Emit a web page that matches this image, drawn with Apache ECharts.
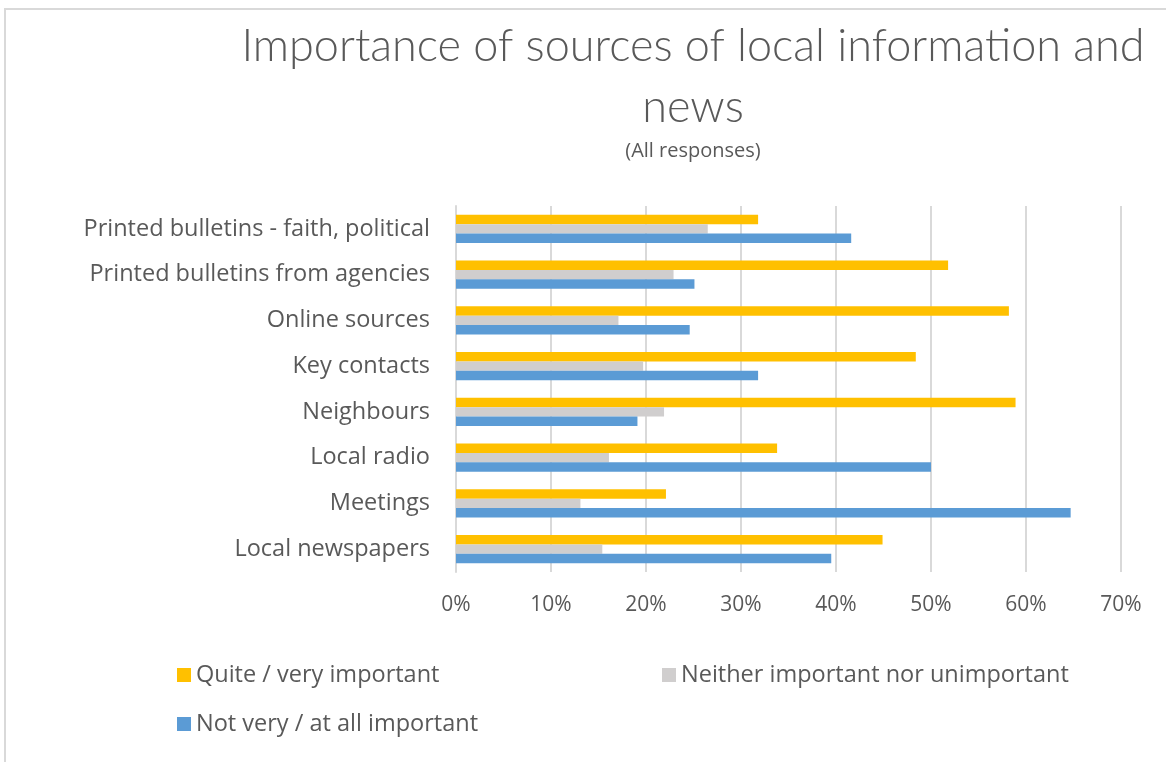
<!DOCTYPE html>
<html>
<head>
<meta charset="utf-8">
<script src="https://cdn.jsdelivr.net/npm/echarts@6/dist/echarts.min.js"></script>
<style>
  html, body { margin: 0; padding: 0; background: #ffffff; }
  #chart { width: 1166px; height: 762px; }
</style>
</head>
<body>
<div id="chart"></div>
<script>
// Sources, listed bottom to top as they appear on the category axis
const categories = [
  'Local newspapers',
  'Meetings',
  'Local radio',
  'Neighbours',
  'Key contacts',
  'Online sources',
  'Printed bulletins from agencies',
  'Printed bulletins - faith, political'
];

// Share of responses (%) per source
const quiteVeryImportant = [44.9, 22.1, 33.8, 58.9, 48.4, 58.2, 51.8, 31.8];
const neitherImportant   = [15.4, 13.1, 16.1, 21.9, 19.7, 17.1, 22.9, 26.5];
const notVeryImportant   = [39.5, 64.7, 50.0, 19.1, 31.8, 24.6, 25.1, 41.6];

const seriesNames = [
  'Quite / very important',
  'Neither important nor unimportant',
  'Not very / at all important'
];

const xTicks = [0, 10, 20, 30, 40, 50, 60, 70];

const textColor = '#595959';
const gridColor = '#d9d9d9';
const labelFont = '"Open Sans", "Noto Sans", sans-serif';
const titleFont = 'Lato, "Open Sans", sans-serif';

const chart = echarts.init(document.getElementById('chart'), null, { renderer: 'canvas' });

const legendCommon = {
  icon: 'rect',
  itemWidth: 14,
  itemHeight: 14,
  itemGap: 4,
  textStyle: { color: textColor, fontSize: 23.5, fontFamily: labelFont },
  selectedMode: false
};

chart.setOption({
  animation: false,
  backgroundColor: '#ffffff',
  title: [
    {
      text: 'Importance of sources of local information and\nnews',
      left: 688,
      top: 11,
      textAlign: 'center',
      textStyle: {
        color: textColor,
        fontSize: 45,
        fontWeight: 300,
        fontFamily: titleFont,
        lineHeight: 61
      }
    },
    {
      text: '(All responses)',
      left: 688,
      top: 136,
      textAlign: 'center',
      textStyle: {
        color: textColor,
        fontSize: 20,
        fontWeight: 'normal',
        fontFamily: labelFont
      }
    }
  ],
  legend: [
    Object.assign({ data: [seriesNames[0]], left: 172, top: 658 }, legendCommon),
    Object.assign({ data: [seriesNames[1]], left: 657, top: 658 }, legendCommon),
    Object.assign({ data: [seriesNames[2]], left: 172, top: 707 }, legendCommon)
  ],
  grid: {
    left: 456,
    right: 45,
    top: 206,
    bottom: 190,
    containLabel: false
  },
  xAxis: {
    type: 'value',
    min: xTicks[0],
    max: xTicks[xTicks.length - 1],
    interval: 10,
    axisLine: { show: false },
    axisTick: { show: false },
    splitLine: { show: true, lineStyle: { color: gridColor, width: 2 } },
    axisLabel: {
      color: textColor,
      fontSize: 21,
      fontFamily: labelFont,
      margin: 23,
      formatter: v => v + '%'
    }
  },
  yAxis: {
    type: 'category',
    data: categories,
    axisLine: { show: true, lineStyle: { color: gridColor, width: 2 } },
    axisTick: { show: false },
    axisLabel: {
      color: textColor,
      fontSize: 23.5,
      fontFamily: labelFont,
      margin: 26
    }
  },
  // Series order puts "Quite / very important" at the top of each group
  series: [
    {
      name: seriesNames[0],
      type: 'bar',
      data: quiteVeryImportant,
      itemStyle: { color: '#ffc000' },
      barGap: '0%',
      barCategoryGap: '38%'
    },
    {
      name: seriesNames[1],
      type: 'bar',
      data: neitherImportant,
      itemStyle: { color: '#d0cece' },
      barGap: '0%',
      barCategoryGap: '38%'
    },
    {
      name: seriesNames[2],
      type: 'bar',
      data: notVeryImportant,
      itemStyle: { color: '#5b9bd5' },
      barGap: '0%',
      barCategoryGap: '38%'
    }
  ],
  graphic: [
    {
      type: 'rect',
      shape: { x: 5, y: 9, width: 1200, height: 800 },
      style: { fill: 'none', stroke: gridColor, lineWidth: 2 },
      silent: true
    }
  ]
});
</script>
</body>
</html>
